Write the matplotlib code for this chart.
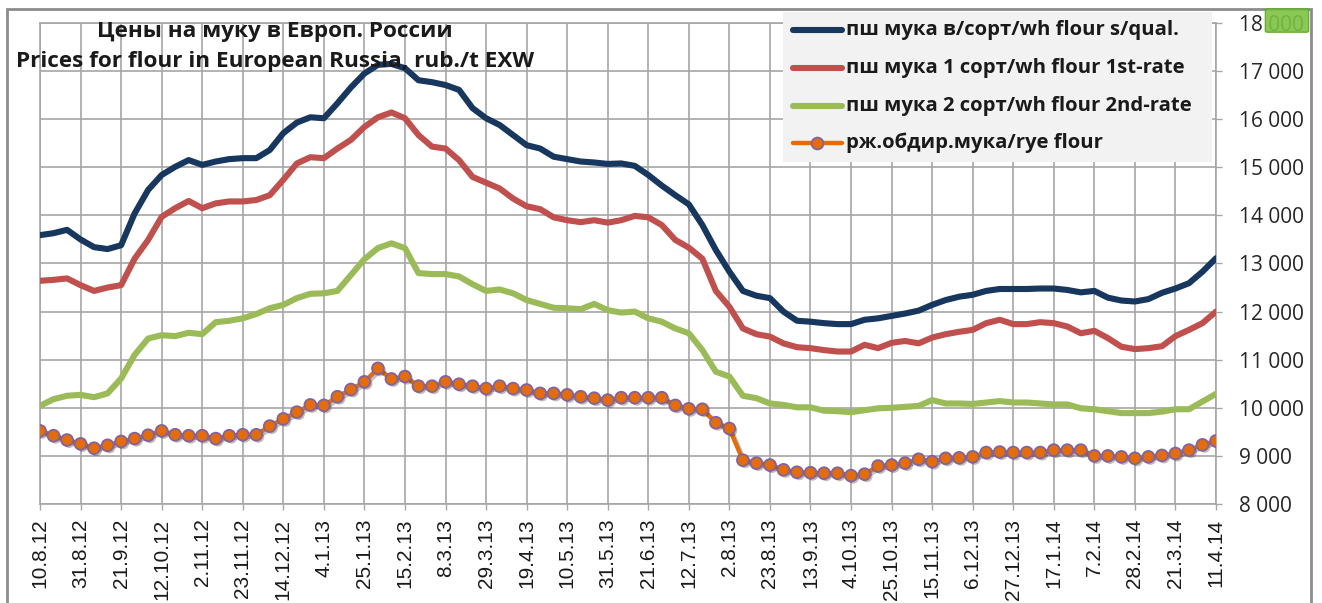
import matplotlib
matplotlib.use("Agg")
import matplotlib.pyplot as plt
import matplotlib.patheffects as pe
from matplotlib.patches import Rectangle, FancyBboxPatch
from matplotlib.lines import Line2D
import numpy as np

# ---------------- data ----------------
tick_labels = ["10.8.12", "31.8.12", "21.9.12", "12.10.12", "2.11.12", "23.11.12",
               "14.12.12", "4.1.13", "25.1.13", "15.2.13", "8.3.13", "29.3.13",
               "19.4.13", "10.5.13", "31.5.13", "21.6.13", "12.7.13", "2.8.13",
               "23.8.13", "13.9.13", "4.10.13", "25.10.13", "15.11.13", "6.12.13",
               "27.12.13", "17.1.14", "7.2.14", "28.2.14", "21.3.14", "11.4.14"]

wheat_top = [13590, 13630, 13700, 13500, 13340, 13300, 13380, 14040, 14530, 14840,
             15010, 15150, 15050, 15120, 15170, 15190, 15190, 15360, 15710, 15930,
             16040, 16020, 16330, 16660, 16950, 17130, 17150, 17060, 16810, 16770,
             16710, 16610, 16230, 16020, 15880, 15670, 15460, 15390, 15220, 15170,
             15120, 15100, 15070, 15080, 15030, 14840, 14620, 14420, 14230, 13800,
             13280, 12830, 12430, 12330, 12280, 12000, 11810, 11790, 11760, 11740,
             11740, 11830, 11860, 11910, 11960, 12020, 12140, 12240, 12310, 12350,
             12430, 12470, 12470, 12470, 12480, 12480, 12450, 12400, 12430, 12290,
             12230, 12210, 12260, 12390, 12480, 12590, 12830, 13110]

wheat_1st = [12640, 12660, 12690, 12550, 12430, 12500, 12550, 13100, 13490, 13970,
             14150, 14300, 14150, 14250, 14290, 14290, 14320, 14420, 14740, 15080,
             15210, 15190, 15390, 15570, 15840, 16040, 16140, 16020, 15670, 15430,
             15390, 15150, 14800, 14680, 14560, 14350, 14190, 14130, 13960, 13900,
             13860, 13900, 13850, 13900, 13990, 13960, 13800, 13490, 13330, 13100,
             12430, 12100, 11650, 11530, 11480, 11340, 11260, 11240, 11200, 11170,
             11170, 11310, 11240, 11350, 11390, 11340, 11460, 11530, 11580, 11620,
             11760, 11830, 11740, 11740, 11780, 11760, 11690, 11550, 11600, 11450,
             11270, 11220, 11240, 11280, 11490, 11620, 11760, 12000]

wheat_2nd = [10040, 10180, 10250, 10270, 10220, 10300, 10610, 11100, 11440, 11510,
             11490, 11560, 11530, 11780, 11810, 11860, 11950, 12070, 12140, 12280,
             12370, 12380, 12430, 12760, 13090, 13320, 13420, 13320, 12800, 12780,
             12780, 12730, 12570, 12430, 12460, 12380, 12240, 12160, 12080, 12070,
             12050, 12160, 12030, 11980, 12000, 11860, 11790, 11650, 11550, 11200,
             10750, 10650, 10250, 10200, 10090, 10060, 10010, 10010, 9940, 9930,
             9910, 9950, 9990, 10000, 10020, 10040, 10160, 10090, 10090, 10080,
             10110, 10140, 10110, 10110, 10090, 10070, 10070, 9990, 9970, 9930,
             9890, 9890, 9890, 9920, 9970, 9970, 10130, 10290]

rye = [9520, 9420, 9330, 9250, 9160, 9220, 9300, 9360, 9430, 9520,
       9440, 9420, 9420, 9360, 9420, 9440, 9440, 9620, 9770, 9910,
       10060, 10050, 10230, 10380, 10540, 10820, 10600, 10650, 10450, 10450,
       10540, 10490, 10450, 10400, 10450, 10400, 10370, 10300, 10300, 10270,
       10230, 10200, 10160, 10210, 10210, 10210, 10210, 10050, 9980, 9970,
       9690, 9570, 8910, 8850, 8810, 8710, 8660, 8650, 8640, 8640,
       8590, 8620, 8790, 8810, 8850, 8930, 8880, 8950, 8960, 8980,
       9070, 9080, 9070, 9070, 9070, 9120, 9120, 9120, 9000, 9000,
       8980, 8950, 8980, 9010, 9050, 9120, 9230, 9310]

series_labels = ["пш мука в/сорт/wh flour s/qual.",
                 "пш мука 1 сорт/wh flour 1st-rate",
                 "пш мука 2 сорт/wh flour 2nd-rate",
                 "рж.обдир.мука/rye flour"]

title_ru = "Цены на муку в Европ. России"
title_en = "Prices for flour in European Russia, rub./t EXW"

y_ticks = [8000, 9000, 10000, 11000, 12000, 13000, 14000, 15000, 16000, 17000, 18000]

# ---------------- style ----------------
C_NAVY = "#17375E"
C_RED = "#C0504D"
C_GREEN = "#9BBB59"
C_ORANGE = "#E46C0A"
C_MEDGE = "#8064A2"
C_GRID = "#A6A6A6"

W, H = 1322, 603
fig = plt.figure(figsize=(W / 100, H / 100), dpi=100)
fig.patch.set_facecolor("white")

def fx(px):
    return px / W

def fy(py):
    return 1 - py / H

ax_l, ax_r, ax_t, ax_b = 40, 1216, 23, 504
ax = fig.add_axes([fx(ax_l), fy(ax_b), (ax_r - ax_l) / W, (ax_b - ax_t) / H])

x = np.arange(len(rye))

ax.plot(x, wheat_top, color=C_NAVY, lw=4.4, solid_capstyle="round", zorder=4)
ax.plot(x, wheat_1st, color=C_RED, lw=4.4, solid_capstyle="round", zorder=4)
ax.plot(x, wheat_2nd, color=C_GREEN, lw=4.4, solid_capstyle="round", zorder=4)
ax.plot(x, rye, color=C_ORANGE, lw=3.2, zorder=5,
        path_effects=[pe.SimpleLineShadow(offset=(1.5, -1.5), alpha=0.25), pe.Normal()])
ax.plot(x, rye, ls="none", marker="o", ms=8.5, mfc=C_ORANGE, mec=C_MEDGE, mew=1.3, zorder=6,
        path_effects=[pe.SimplePatchShadow(offset=(1.5, -1.5), alpha=0.3), pe.Normal()])

ax.set_xlim(0, len(rye) - 1)
ax.set_ylim(8000, 18000)
ax.set_xticks(x[::3])
ax.set_xticklabels(tick_labels, rotation=90, fontsize=15, family="Liberation Sans",
                   color="#1a1a1a")
ax.set_yticks(y_ticks)
ax.set_yticklabels([f"{v:,}".replace(",", " ") for v in y_ticks], fontsize=15,
                   family="Open Sans", color="#262626")
ax.yaxis.tick_right()
ax.tick_params(axis="y", length=4.5, width=1, color=C_GRID, pad=12)
ax.tick_params(axis="x", length=4.5, width=1, color=C_GRID, pad=6)
ax.grid(True, color=C_GRID, lw=1.2)
ax.set_axisbelow(True)
for s in ax.spines.values():
    s.set_color(C_GRID)
    s.set_linewidth(1.2)

# ---------------- titles ----------------
fig.text(fx(275), fy(31), title_ru, ha="center", va="center", fontsize=16.2,
         fontweight="bold", family="Open Sans", color="#1a1a1a")
fig.text(fx(275), fy(62), title_en, ha="center", va="center", fontsize=16.2,
         fontweight="bold", family="Open Sans", color="#1a1a1a")

# ---------------- legend (manual) ----------------
fig.patches.append(Rectangle((fx(783), fy(162)), fx(1212) - fx(783), fy(12) - fy(162),
                             transform=fig.transFigure, facecolor="#F2F2F2",
                             edgecolor="none", zorder=10))
leg_rows = [30, 68, 106, 143]
leg_colors = [C_NAVY, C_RED, C_GREEN, C_ORANGE]
for i, (yy, col, lab) in enumerate(zip(leg_rows, leg_colors, series_labels)):
    lw = 4.4 if i < 3 else 3.2
    fig.add_artist(Line2D([fx(793), fx(842)], [fy(yy), fy(yy)], color=col, lw=lw,
                          solid_capstyle="round", transform=fig.transFigure, zorder=11))
    if i == 3:
        fig.add_artist(Line2D([fx(817)], [fy(yy)], ls="none", marker="o", ms=8.5,
                              mfc=C_ORANGE, mec=C_MEDGE, mew=1.3,
                              transform=fig.transFigure, zorder=12))
    fig.text(fx(846), fy(yy), lab, ha="left", va="center", fontsize=14.6,
             fontweight="bold", family="Open Sans", color="#1a1a1a", zorder=12)

# ---------------- logo (graphic) & frame ----------------
fig.patches.append(FancyBboxPatch((fx(1268), fy(31)), fx(1306) - fx(1268), fy(10) - fy(31),
                                  boxstyle="round,pad=0.002", transform=fig.transFigure,
                                  facecolor="#7DC242", edgecolor="#5FA82E", lw=1,
                                  alpha=0.9, zorder=13))
fig.patches.append(Rectangle((fx(7), fy(603) - 0.01), fx(1311) - fx(7), fy(9) - fy(603) + 0.01,
                             transform=fig.transFigure, facecolor="none",
                             edgecolor="#8c8c8c", lw=2, zorder=0))

fig.savefig("out.png", dpi=100)
